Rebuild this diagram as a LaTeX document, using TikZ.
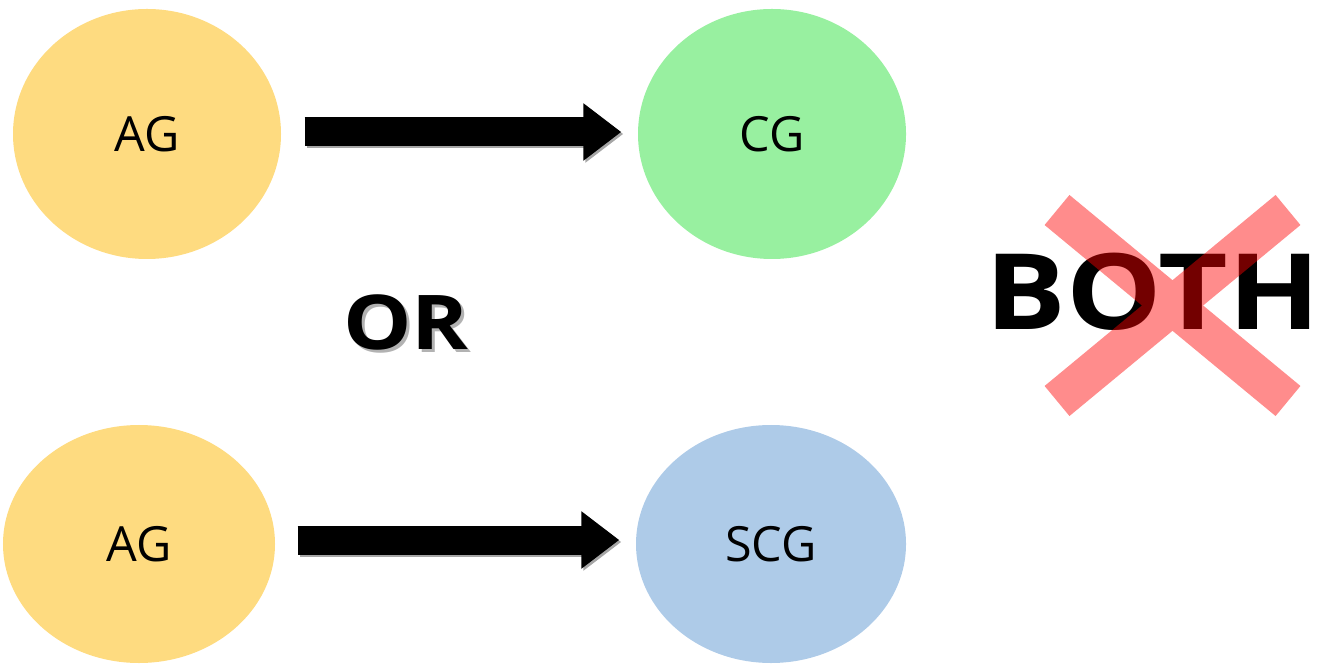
\documentclass[tikz,border=0pt]{standalone}
\usepackage{fontspec}
\setmainfont{Open Sans}
\usetikzlibrary{arrows.meta, shapes.geometric}

\definecolor{agyellow}{RGB}{254,219,128}
\definecolor{cggreen}{RGB}{152,240,160}
\definecolor{scgblue}{RGB}{174,203,232}
\definecolor{crossred}{RGB}{255,0,0}

\tikzset{
  group/.style={ellipse, inner sep=0pt, minimum width=2.7cm, minimum height=2.45cm,
    font=\fontsize{13.8}{15}\selectfont},
  bigarrow/.style={line width=0.29cm, -{Triangle[length=0.38cm, width=0.55cm]}},
  bigtext/.style={font=\bfseries\fontsize{#1}{#1}\selectfont, inner sep=0pt, xscale=1.14}
}

\begin{document}
\begin{tikzpicture}
\useasboundingbox (0,0) rectangle (13.26,6.64);

% top row
\node[group, fill=agyellow, minimum width=2.68cm, minimum height=2.5cm] (ag1) at (1.47,5.30) {AG};
\node[group, fill=cggreen, minimum width=2.68cm, minimum height=2.5cm] (cg) at (7.72,5.30) {CG};

% bottom row
\node[group, fill=agyellow, minimum width=2.72cm, minimum height=2.38cm] (ag2) at (1.39,1.20) {AG};
\node[group, fill=scgblue, minimum width=2.70cm, minimum height=2.38cm] (scg) at (7.71,1.20) {SCG};

% arrows with a grey shadow
\coordinate (a1s) at ([xshift=0.23cm, yshift=0.02cm]ag1.east);
\coordinate (a1e) at ([xshift=-0.16cm, yshift=0.02cm]cg.west);
\coordinate (a2s) at ([xshift=0.22cm, yshift=0.04cm]ag2.east);
\coordinate (a2e) at ([xshift=-0.16cm, yshift=0.04cm]scg.west);
\draw[bigarrow, gray!70, transform canvas={shift={(0.02,-0.02)}}] (a1s) -- (a1e);
\draw[bigarrow, gray!70, transform canvas={shift={(0.02,-0.02)}}] (a2s) -- (a2e);
\draw[bigarrow] (a1s) -- (a1e);
\draw[bigarrow] (a2s) -- (a2e);

% OR in the middle
\node[bigtext=21.5, text=gray!60] at (4.09,3.39) {OR};
\node[bigtext=21.5] (or) at (4.06,3.42) {OR};

% BOTH, crossed out
\node[bigtext=30] (both) at (11.53,3.72) {BOTH};
\draw[crossred, opacity=0.45, line width=0.39cm]
  (10.57,4.54) -- (12.88,2.63) (12.88,4.54) -- (10.57,2.63);
\end{tikzpicture}
\end{document}
